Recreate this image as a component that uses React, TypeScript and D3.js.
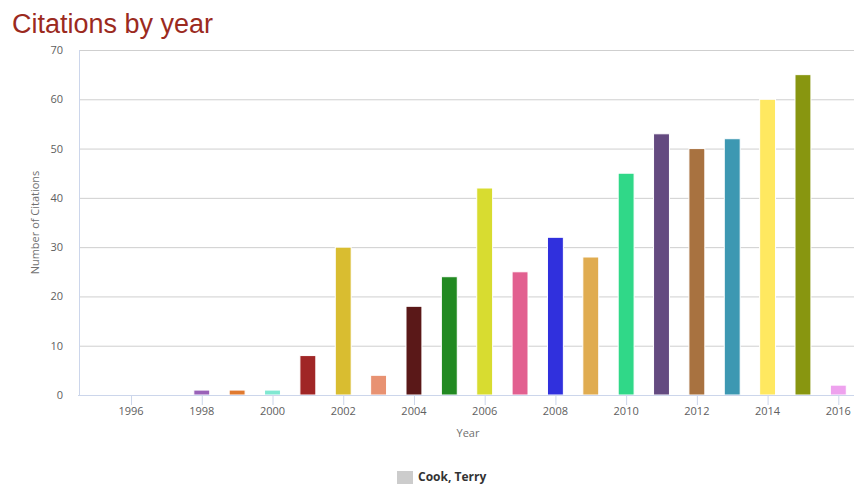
import { useEffect, useRef } from "react";
import * as d3 from "d3";

const years = [1995, 1996, 1997, 1998, 1999, 2000, 2001, 2002, 2003, 2004, 2005, 2006, 2007, 2008, 2009, 2010, 2011, 2012, 2013, 2014, 2015, 2016];
const citations = [0, 0, 0, 1, 1, 1, 8, 30, 4, 18, 24, 42, 25, 32, 28, 45, 53, 50, 52, 60, 65, 2];
const barColors = [
  "#cccccc", "#cccccc", "#cccccc", "#9a62b8", "#e07a30", "#80e8d2", "#a02626", "#d9bd30",
  "#e89272", "#5a1818", "#228a22", "#d8dc30", "#e26090", "#3030dd", "#e0ac50", "#30d888",
  "#644a80", "#a87240", "#3d98b2", "#ffe860", "#889610", "#eea2ee",
];
const yTicks = [0, 10, 20, 30, 40, 50, 60, 70];
const xTickYears = [1996, 1998, 2000, 2002, 2004, 2006, 2008, 2010, 2012, 2014, 2016];
const seriesName = "Cook, Terry";

export default function App() {
  const ref = useRef<SVGSVGElement | null>(null);

  useEffect(() => {
    document.body.style.margin = "0";
    if (!ref.current) return;
    const width = 854;
    const height = 484;
    const left = 78;
    const right = 856;
    const top = 50;
    const bottom = 395;
    const font = "'Open Sans', 'DejaVu Sans', sans-serif";

    const svg = d3.select(ref.current);
    svg.selectAll("*").remove();
    svg.attr("width", width).attr("height", height);

    const x = d3.scaleBand<number>().domain(years).range([left, right]).paddingInner(0.55).paddingOuter(0.275);
    const y = d3.scaleLinear().domain([0, 70]).range([bottom, top]);
    const cx = (yr: number) => (x(yr) as number) + x.bandwidth() / 2;

    svg.append("text")
      .attr("x", 12).attr("y", 33)
      .attr("font-family", "'Liberation Sans', Arial, sans-serif")
      .attr("font-size", 27)
      .attr("fill", "#9b2a1e")
      .text("Citations by year");

    // grid
    svg.append("g").selectAll("line").data(yTicks.filter(t => t > 0)).join("line")
      .attr("x1", left + 1).attr("x2", width)
      .attr("y1", d => y(d) + 0.5).attr("y2", d => y(d) + 0.5)
      .attr("stroke", "#cfcfcf").attr("stroke-width", 1);

    svg.append("line")
      .attr("x1", left + 1.5).attr("x2", left + 1.5)
      .attr("y1", top).attr("y2", bottom)
      .attr("stroke", "#ccd6eb");

    svg.append("g").selectAll("text").data(yTicks).join("text")
      .attr("x", 63).attr("y", d => y(d) + 4)
      .attr("text-anchor", "end")
      .attr("font-family", font).attr("font-size", 11)
      .attr("fill", "#606060")
      .text(d => d);

    svg.append("text")
      .attr("transform", `translate(39, ${(top + bottom) / 2}) rotate(-90)`)
      .attr("text-anchor", "middle")
      .attr("font-family", font).attr("font-size", 11)
      .attr("fill", "#707070")
      .text("Number of Citations");

    // bars
    svg.append("g").selectAll("rect").data(years).join("rect")
      .attr("x", d => x(d) as number)
      .attr("width", x.bandwidth())
      .attr("y", (d, i) => y(citations[i]))
      .attr("height", (d, i) => bottom - y(citations[i]))
      .attr("fill", (d, i) => barColors[i])
      .attr("stroke", "#ffffff").attr("stroke-width", 1)
      .style("display", (d, i) => (citations[i] > 0 ? null : "none"));

    // x axis
    svg.append("line")
      .attr("x1", left).attr("x2", width)
      .attr("y1", bottom + 0.5).attr("y2", bottom + 0.5)
      .attr("stroke", "#ccd6eb");

    svg.append("g").selectAll("line").data(xTickYears).join("line")
      .attr("x1", d => cx(d) + 0.5).attr("x2", d => cx(d) + 0.5)
      .attr("y1", bottom).attr("y2", bottom + 10)
      .attr("stroke", "#ccd6eb");

    svg.append("g").selectAll("text").data(xTickYears).join("text")
      .attr("x", d => cx(d)).attr("y", bottom + 20)
      .attr("text-anchor", "middle")
      .attr("font-family", font).attr("font-size", 11)
      .attr("fill", "#606060")
      .text(d => d);

    svg.append("text")
      .attr("x", 468).attr("y", 437)
      .attr("text-anchor", "middle")
      .attr("font-family", font).attr("font-size", 11)
      .attr("fill", "#707070")
      .text("Year");

    // legend
    svg.append("rect")
      .attr("x", 397).attr("y", 471).attr("width", 16).attr("height", 13)
      .attr("fill", "#cccccc");
    svg.append("text")
      .attr("x", 418).attr("y", 481)
      .attr("font-family", font).attr("font-size", 12).attr("font-weight", "bold")
      .attr("fill", "#333333")
      .text(seriesName);
  }, []);

  return <svg ref={ref} style={{ display: "block" }} />;
}
